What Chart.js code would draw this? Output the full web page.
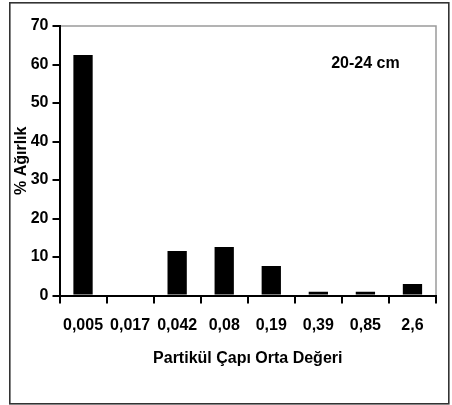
<!DOCTYPE html>
<html lang="tr">
<head>
    <meta charset="UTF-8">
    <title>Partikül Çapı</title>
    <script src="https://cdn.jsdelivr.net/npm/chart.js"></script>
    <style>
        body {
            margin: 0;
            background: #fff;
        }

        #wrap {
            width: 452px;
            height: 405px;
        }
    </style>
</head>
<body>
    <div id="wrap"><canvas id="grainChart" width="452" height="405"></canvas></div>
<script>
    // Data
    const categories = ['0,005', '0,017', '0,042', '0,08', '0,19', '0,39', '0,85', '2,6'];
    const weights = [62.5, 0, 11.6, 12.6, 7.7, 1, 1, 3];
    const yTicks = [0, 10, 20, 30, 40, 50, 60, 70];
    const depthLabel = '20-24 cm';

    const font = { family: 'Liberation Sans, Arial, sans-serif', size: 16, weight: 'bold' };

    // Outer frame, grey top/right plot border and the depth note
    const framePlugin = {
        id: 'frame',
        beforeDraw(chart) {
            const ctx = chart.ctx;
            ctx.save();
            ctx.fillStyle = '#fff';
            ctx.fillRect(0, 0, chart.width, chart.height);
            ctx.strokeStyle = '#333';
            ctx.lineWidth = 1.6;
            ctx.strokeRect(9.8, 2.8, 439, 401);
            const a = chart.chartArea;
            ctx.strokeStyle = '#9a9a9a';
            ctx.lineWidth = 1.5;
            ctx.beginPath();
            ctx.moveTo(a.left, a.top);
            ctx.lineTo(a.right, a.top);
            ctx.lineTo(a.right, a.bottom);
            ctx.stroke();
            ctx.restore();
        },
        afterDraw(chart) {
            const ctx = chart.ctx;
            const x = chart.scales.x.getPixelForValue(6);
            const y = chart.scales.y.getPixelForValue(60.3);
            ctx.save();
            ctx.font = 'bold 16px Liberation Sans, Arial, sans-serif';
            ctx.fillStyle = '#000';
            ctx.textAlign = 'center';
            ctx.textBaseline = 'middle';
            ctx.fillText(depthLabel, x, y);
            ctx.restore();
        }
    };

    const ctx = document.getElementById('grainChart').getContext('2d');
    const grainChart = new Chart(ctx, {
        type: 'bar',
        data: {
            labels: categories,
            datasets: [{
                data: weights,
                backgroundColor: '#000',
                borderWidth: 0,
                barPercentage: 0.41,
                categoryPercentage: 1.0
            }]
        },
        options: {
            responsive: false,
            animation: false,
            layout: {
                padding: { left: 12, right: 16, top: 26, bottom: 37 }
            },
            plugins: {
                legend: { display: false },
                tooltip: { enabled: false }
            },
            scales: {
                x: {
                    grid: {
                        offset: true,
                        drawOnChartArea: false,
                        drawTicks: true,
                        tickLength: 8,
                        color: '#000',
                        lineWidth: 2
                    },
                    border: { color: '#000', width: 2 },
                    ticks: {
                        color: '#000',
                        font: font,
                        padding: 12,
                        maxRotation: 0,
                        autoSkip: false
                    },
                    title: {
                        display: true,
                        text: 'Partikül Çapı Orta Değeri',
                        color: '#000',
                        font: font,
                        padding: { top: 2, bottom: 0 }
                    }
                },
                y: {
                    min: 0,
                    max: 70,
                    afterBuildTicks(axis) {
                        axis.ticks = yTicks.map(v => ({ value: v }));
                    },
                    afterFit(axis) {
                        axis.width = 47.5;
                    },
                    grid: {
                        drawOnChartArea: false,
                        drawTicks: true,
                        tickLength: 7,
                        color: '#000',
                        lineWidth: 2
                    },
                    border: { color: '#000', width: 2 },
                    ticks: {
                        color: '#000',
                        font: font,
                        padding: 4
                    },
                    title: {
                        display: true,
                        text: '% Ağırlık',
                        color: '#000',
                        font: font,
                        padding: 0
                    }
                }
            }
        },
        plugins: [framePlugin]
    });
</script>
</body>
</html>
